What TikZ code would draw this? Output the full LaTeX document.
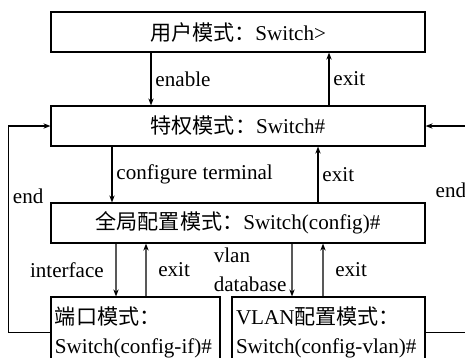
\documentclass[tikz,border=0pt]{standalone}
\usepackage{fontspec}
\setmainfont{Liberation Serif}
\newfontfamily\cjk{Noto Sans CJK SC}
\usetikzlibrary{arrows.meta}
\tikzset{
  fx/.style={x=0.3mm, y=-0.3mm, font=\fontsize{18}{24.5}\selectfont},
  m box/.style={draw, line width=1pt, minimum height=12mm, minimum width=112.2mm, inner sep=0pt},
  m sub/.style={draw, line width=1pt, minimum height=21.3mm, align=left, inner xsep=1.2mm, inner ysep=0pt},
  m arr/.style={line width=1pt, -{Stealth[length=2.1mm, width=1.6mm]}},
}
\begin{document}
\begin{tikzpicture}[fx]
\useasboundingbox (0,0) rectangle (465,357);
\clip (0,0) rectangle (465,357);
\node[m box] (user) at (238,32) {{\cjk 用户模式：}Switch>};
\node[m box] (priv) at (238,126) {{\cjk 特权模式：}Switch\#};
\node[m box] (glob) at (238,223) {{\cjk 全局配置模式：}Switch(config)\#};
\node[m sub, text width=48.3mm] (port) at (135.5,332.5) {{\cjk 端口模式：}\\Switch(config-if)\#};
\node[m sub, text width=55.5mm] (vlan) at (328.5,332.5) {VLAN{\cjk 配置模式：}\\Switch(config-vlan)\#};
\draw[m arr] ([xshift=-26.1mm]user.south) -- node[right] {enable} ([xshift=-26.1mm]priv.north);
\draw[m arr] ([xshift=27.3mm]priv.north) -- node[right] {exit} ([xshift=27.3mm]user.south);
\draw[m arr] ([xshift=-37.8mm]priv.south) -- node[right] {configure terminal} ([xshift=-37.8mm]glob.north);
\draw[m arr] ([xshift=24mm]glob.north) -- node[right] {exit} ([xshift=24mm]priv.south);
\draw[m arr] ([xshift=-36.6mm]glob.south) -- node[left, inner xsep=3.5mm] {interface} ([xshift=-5.85mm]port.north);
\draw[m arr] ([xshift=3.15mm]port.north) -- node[right, inner xsep=3.5mm] {exit} ([xshift=-27.6mm]glob.south);
\draw[m arr] ([xshift=16.2mm]glob.south) -- node[left, align=left, inner xsep=1.5mm] {vlan\\database} ([xshift=-10.95mm]vlan.north);
\draw[m arr] ([xshift=-1.65mm]vlan.north) -- node[right, inner xsep=3.5mm] {exit} ([xshift=25.5mm]glob.south);
\draw[m arr] (port.west) -- ++(-42,0) |- node[right, pos=0.33] {end} (priv.west);
\draw[m arr] (vlan.east) -- ++(45,0) |- node[left, pos=0.345] {end} (priv.east);
\end{tikzpicture}
\end{document}
